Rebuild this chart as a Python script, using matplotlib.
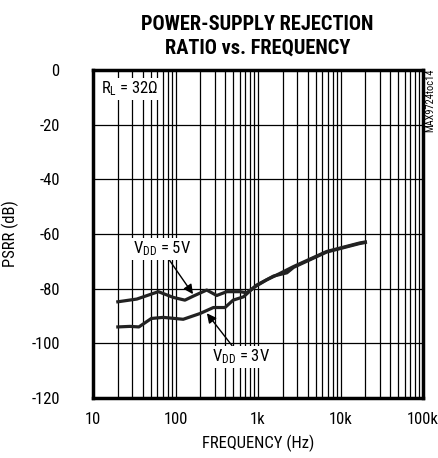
import numpy as np
import matplotlib
matplotlib.use('Agg')
import matplotlib.pyplot as plt
from matplotlib.ticker import FixedLocator, LogLocator, NullFormatter

plt.rcParams['font.family'] = ['Roboto Condensed', 'DejaVu Sans']
plt.rcParams['mathtext.default'] = 'regular'
plt.rcParams['axes.unicode_minus'] = False

# values
freq_5v = [20, 34, 62, 94, 130, 165, 239, 316, 418, 605, 727, 920, 1270, 1850,
           2700, 6800, 17000, 20000]
psrr_5v = [-84.8, -83.8, -81.1, -83.2, -84.2, -82.7, -80.5, -82.5, -81.1, -81.1,
           -81.5, -79.3, -76.8, -74.4, -71.9, -66.4, -63.3, -62.9]

freq_3v = [20, 28, 36, 51, 71, 124, 198, 288, 398, 500, 665, 960, 1540, 2240,
           2700, 6800, 17000, 20000]
psrr_3v = [-94.0, -93.8, -94.0, -90.9, -90.5, -91.2, -89.1, -86.9, -86.9, -84.2,
           -83.0, -78.7, -75.4, -74.2, -72.2, -66.6, -63.5, -63.1]

x_ticks = [10, 100, 1000, 10000, 100000]
x_labels = ['10', '100', '1k', '10k', '100k']
y_ticks = [0, -20, -40, -60, -80, -100, -120]

fig = plt.figure(figsize=(4.38, 4.58), dpi=100)
ax = fig.add_axes([93/438, 1 - 398/458, 330/438, 328/458])

ax.semilogx(freq_5v, psrr_5v, color='#222222', lw=2.3, zorder=3)
ax.semilogx(freq_3v, psrr_3v, color='#222222', lw=2.3, zorder=3)

ax.set_xlim(10, 100000)
ax.set_ylim(-120, 0)
ax.xaxis.set_major_locator(FixedLocator(x_ticks))
ax.set_xticklabels(x_labels)
ax.xaxis.set_minor_locator(LogLocator(base=10, subs=np.arange(2, 10)))
ax.xaxis.set_minor_formatter(NullFormatter())
ax.set_yticks(y_ticks)
ax.grid(True, which='both', axis='x', color='black', lw=0.9)
ax.grid(True, which='major', axis='y', color='black', lw=0.9)
ax.tick_params(which='both', length=0, labelsize=12)
ax.tick_params(axis='y', pad=24)
ax.tick_params(axis='x', pad=10)
for s in ax.spines.values():
    s.set_linewidth(2.5)

ax.set_xlabel('FREQUENCY (Hz)', fontsize=12, labelpad=6)
ax.set_ylabel('PSRR (dB)', fontsize=12, labelpad=9)
fig.text(0.588, 0.92, 'POWER-SUPPLY REJECTION\nRATIO vs. FREQUENCY', ha='center',
         va='center', fontsize=14.7, fontweight='bold', linespacing=1.3)

box = dict(fc='white', ec='none', pad=1.5)
ax.text(12.5, -7, r'R$_{L}$ = 32Ω', fontsize=12, va='center', ha='left', bbox=box, zorder=4)
ax.annotate(r'V$_{DD}$ = 5V', xy=(163, -82), xytext=(68, -65.5), fontsize=12,
            ha='center', va='center', bbox=box, zorder=4,
            arrowprops=dict(arrowstyle='-|>', color='black', lw=1, mutation_scale=14,
                            shrinkA=0, shrinkB=0))
ax.annotate(r'V$_{DD}$ = 3V', xy=(240, -89), xytext=(620, -105), fontsize=12,
            ha='center', va='center', bbox=box, zorder=4,
            arrowprops=dict(arrowstyle='-|>', color='black', lw=1, mutation_scale=14,
                            shrinkA=0, shrinkB=0))

fig.text(0.982, 0.78, 'MAX9724toc14', rotation=90, fontsize=7.5, ha='center', va='center')

fig.savefig('out.png', dpi=100)
